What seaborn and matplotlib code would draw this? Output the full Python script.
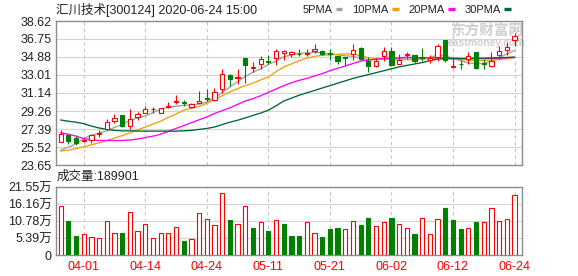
import numpy as np
import pandas as pd
import matplotlib
matplotlib.use("Agg")
import matplotlib.pyplot as plt
import seaborn as sns
from matplotlib.lines import Line2D

# ---------------- data ----------------
dates = ['03-27', '03-30', '03-31', '04-01', '04-02', '04-03', '04-07', '04-08', '04-09', '04-10',
         '04-13', '04-14', '04-15', '04-16', '04-17', '04-20', '04-21', '04-22', '04-23', '04-24',
         '04-27', '04-28', '04-29', '04-30', '05-06', '05-07', '05-08', '05-11', '05-12', '05-13',
         '05-14', '05-15', '05-18', '05-19', '05-20', '05-21', '05-22', '05-25', '05-26', '05-27',
         '05-28', '05-29', '06-01', '06-02', '06-03', '06-04', '06-05', '06-08', '06-09', '06-10',
         '06-11', '06-12', '06-15', '06-16', '06-17', '06-18', '06-19', '06-22', '06-23', '06-24']

opens = [26.04, 26.79, 26.48, 26.15, 26.28, 26.85, 27.41, 28.20, 28.81, 27.75,
         28.68, 29.02, 29.52, 29.09, 29.71, 30.22, 30.19, 29.71, 30.12, 30.60,
         30.39, 31.59, 33.00, 32.66, 34.78, 33.75, 34.17, 34.47, 34.78, 35.30,
         35.16, 35.23, 35.16, 35.54, 35.47, 35.30, 35.02, 34.89, 35.16, 35.85,
         34.44, 33.93, 34.95, 35.54, 34.17, 35.06, 35.06, 34.89, 34.61, 34.89,
         36.67, 33.86, 34.17, 34.68, 35.37, 34.30, 33.99, 35.09, 35.57, 36.60]
closes = [26.89, 26.10, 25.97, 26.30, 26.72, 26.95, 28.15, 28.54, 27.68, 28.44,
          28.95, 29.47, 29.48, 29.60, 29.77, 30.29, 30.08, 29.95, 30.29, 30.53,
          31.25, 33.07, 32.62, 32.76, 34.00, 33.86, 34.68, 34.34, 35.54, 35.47,
          35.37, 35.16, 35.30, 35.74, 35.16, 35.23, 34.41, 34.75, 35.61, 34.68,
          33.93, 34.41, 35.54, 34.03, 34.61, 35.16, 34.44, 34.75, 34.78, 35.98,
          34.61, 33.99, 34.10, 35.02, 33.75, 34.20, 34.51, 35.54, 35.88, 37.01]
highs = [27.24, 26.89, 26.65, 26.45, 26.75, 27.30, 28.40, 28.95, 28.85, 29.47,
         29.12, 29.74, 29.67, 29.62, 30.15, 30.91, 30.39, 30.08, 31.32, 31.59,
         31.70, 33.58, 33.07, 33.58, 34.78, 34.37, 34.95, 35.13, 35.71, 35.64,
         35.54, 35.74, 35.74, 36.19, 35.64, 35.71, 35.02, 34.89, 36.26, 35.92,
         34.89, 34.82, 35.92, 35.92, 35.20, 35.37, 35.13, 35.81, 35.13, 36.22,
         36.67, 34.78, 34.61, 35.40, 35.37, 34.68, 35.40, 35.98, 36.40, 37.42]
lows = [26.00, 25.86, 25.76, 26.00, 25.95, 26.55, 27.30, 27.99, 27.65, 27.41,
        28.33, 29.02, 29.05, 29.05, 29.53, 29.95, 29.74, 29.53, 30.08, 30.33,
        30.32, 31.11, 31.87, 32.04, 32.21, 33.31, 33.65, 34.17, 34.00, 34.61,
        34.85, 35.02, 34.95, 35.30, 35.06, 34.54, 34.10, 34.00, 34.61, 34.61,
        33.31, 33.86, 34.44, 33.93, 34.10, 34.71, 34.27, 34.44, 34.27, 34.44,
        34.34, 33.75, 33.58, 34.17, 33.65, 33.68, 33.82, 34.68, 35.13, 35.98]

ma5 = [25.20, 25.50, 25.85, 26.40, 26.75, 26.95, 27.20, 27.55, 27.85, 28.30,
       28.55, 28.75, 29.10, 29.45, 29.65, 29.75, 29.85, 29.90, 29.98, 30.20,
       30.60, 31.20, 31.75, 32.30, 32.85, 33.30, 33.65, 34.10, 34.45, 34.90,
       35.10, 35.25, 35.30, 35.35, 35.30, 35.20, 35.10, 35.00, 34.95, 34.75,
       34.60, 34.60, 34.75, 34.75, 34.70, 34.80, 34.75, 34.70, 34.80, 35.10,
       35.00, 34.75, 34.50, 34.25, 34.20, 34.20, 34.45, 34.80, 35.20, 35.55]
ma10 = [25.10, 25.20, 25.35, 25.55, 25.75, 25.95, 26.20, 26.45, 26.70, 27.00,
        27.30, 27.60, 27.90, 28.20, 28.60, 28.95, 29.35, 29.55, 29.75, 30.05,
        30.45, 30.85, 31.25, 31.60, 31.90, 32.15, 32.50, 32.80, 33.35, 33.85,
        34.15, 34.50, 34.75, 34.95, 35.05, 35.10, 35.15, 35.20, 35.20, 35.00,
        34.80, 34.70, 34.70, 34.65, 34.60, 34.60, 34.60, 34.65, 34.70, 34.75,
        34.75, 34.65, 34.60, 34.55, 34.50, 34.50, 34.55, 34.60, 34.70, 34.80]
ma20 = [27.00, 26.85, 26.65, 26.40, 26.25, 26.20, 26.20, 26.20, 26.20, 26.25,
        26.35, 26.50, 26.65, 26.85, 27.15, 27.45, 27.75, 28.05, 28.35, 28.65,
        29.00, 29.30, 29.60, 29.95, 30.30, 30.55, 30.85, 31.20, 31.55, 31.90,
        32.20, 32.45, 32.65, 32.90, 33.15, 33.45, 33.70, 33.95, 34.20, 34.45,
        34.55, 34.65, 34.70, 34.75, 34.80, 34.85, 34.80, 34.80, 34.80, 34.80,
        34.80, 34.75, 34.72, 34.70, 34.70, 34.70, 34.72, 34.75, 34.80, 34.85]
ma30 = [28.33, 28.20, 28.10, 27.95, 27.70, 27.50, 27.35, 27.25, 27.20, 27.20,
        27.18, 27.17, 27.17, 27.17, 27.17, 27.17, 27.20, 27.25, 27.35, 27.45,
        27.60, 27.85, 28.10, 28.30, 28.55, 28.80, 29.05, 29.35, 29.80, 30.30,
        30.60, 30.90, 31.15, 31.40, 31.65, 31.90, 32.15, 32.40, 32.65, 32.85,
        33.05, 33.25, 33.45, 33.65, 33.85, 34.00, 34.15, 34.30, 34.50, 34.65,
        34.70, 34.72, 34.72, 34.74, 34.75, 34.76, 34.78, 34.80, 34.83, 34.86]

vol_wan = [15.5, 10.8, 6.1, 6.7, 5.7, 5.4, 10.7, 7.0, 7.1, 13.5,
           7.6, 9.8, 5.4, 7.0, 7.0, 8.8, 4.3, 5.1, 13.2, 11.3,
           9.6, 19.8, 11.1, 9.9, 15.5, 8.6, 10.4, 7.7, 11.0, 9.9,
           6.1, 6.1, 10.5, 7.0, 5.6, 8.1, 8.7, 8.3, 10.8, 9.4,
           11.6, 9.3, 10.5, 11.6, 9.9, 8.6, 6.8, 11.8, 6.7, 11.5,
           15.0, 11.2, 8.1, 8.6, 10.3, 10.5, 14.9, 10.8, 11.5, 18.99]
vol_dir = ['up', 'down', 'down', 'up', 'up', 'up', 'up', 'up', 'down', 'up',
           'up', 'up', 'up', 'up', 'up', 'up', 'down', 'up', 'up', 'up',
           'up', 'up', 'down', 'up', 'up', 'down', 'up', 'down', 'up', 'down',
           'down', 'down', 'up', 'up', 'down', 'down', 'down', 'up', 'up', 'down',
           'down', 'up', 'up', 'down', 'up', 'up', 'down', 'up', 'up', 'up',
           'down', 'down', 'down', 'up', 'down', 'up', 'up', 'up', 'up', 'up']

price_ticks = [23.65, 25.52, 27.39, 29.26, 31.14, 33.01, 34.88, 36.75, 38.62]
vol_ticks = [0, 5.39, 10.78, 16.16, 21.55]
vol_tick_labels = ['0', '5.39万', '10.78万', '16.16万', '21.55万']
date_ticks = ['04-01', '04-14', '04-24', '05-11', '05-21', '06-02', '06-12', '06-24']
title = '汇川技术[300124] 2020-06-24 15:00'
vol_label = '成交量:189901'
ma_names = ['5PMA', '10PMA', '20PMA', '30PMA']

# ---------------- style ----------------
sns.set_style('white')
plt.rcParams['font.family'] = ['Liberation Sans', 'Noto Sans CJK SC']
plt.rcParams['axes.unicode_minus'] = False

RED = '#ff0000'
GREEN = '#008000'
MA_COLORS = ['#a0a0a0', '#f0a000', '#ff00ff', '#006633']
GRID = '#d2d2d2'
VGRID = '#c4c4c4'
SPINE = '#8c8c8c'
TXT = '#222222'

W, H = 578, 276
fig = plt.figure(figsize=(W / 100, H / 100), dpi=100)
fig.patch.set_facecolor('white')
ax1 = fig.add_axes([56 / W, 1 - 165 / H, 466 / W, 144 / H])
ax2 = fig.add_axes([56 / W, 1 - 255 / H, 466 / W, 68 / H])

idx = np.arange(len(dates))
tick_pos = [dates.index(d) for d in date_ticks]
XL = (-0.6, 59.97)

# ---------------- price panel ----------------
o = np.array(opens); c = np.array(closes)
up = c >= o
cols = [RED if u else GREEN for u in up]
ax1.vlines(idx, lows, highs, colors=cols, lw=0.8, zorder=3)
body_bottom = np.minimum(o, c)
body_h = np.maximum(np.abs(c - o), 0.04)
ax1.bar(idx, body_h, bottom=body_bottom, width=0.55,
        color=['white' if u else GREEN for u in up], edgecolor=cols, lw=0.8, zorder=4)

for ma, col in zip([ma5, ma10, ma20, ma30], MA_COLORS):
    sns.lineplot(x=idx, y=ma, color=col, lw=0.95, ax=ax1, zorder=2)

ax1.set_xlim(*XL)
ax1.set_ylim(price_ticks[0], price_ticks[-1])
ax1.set_yticks(price_ticks)
ax1.set_yticklabels(['%.2f' % t for t in price_ticks])
ax1.set_xticks([])
ax1.set_xlabel(''); ax1.set_ylabel('')
ax1.yaxis.grid(True, color=GRID, lw=0.8, ls='-')
ax1.set_axisbelow(True)
for p in tick_pos:
    ax1.axvline(p, color=VGRID, lw=0.8, ls=(0, (3, 3)), zorder=0.5)

ax1.text(450 / W, 1 - 31 / H, '东方财富网', transform=fig.transFigure, fontsize=10.5,
         color='#cfcfcf', fontweight='bold', family=['Noto Sans CJK SC'], va='center', ha='left', zorder=1)
ax1.text(486 / W, 1 - 43 / H, 'eastmoney.com', transform=fig.transFigure, fontsize=7.5,
         color='#cfcfcf', fontweight='bold', va='center', ha='center', zorder=1)

# ---------------- volume panel ----------------
df = pd.DataFrame({'i': idx, 'v': vol_wan, 'd': vol_dir})
sns.barplot(data=df, x='i', y='v', hue='d', palette={'up': RED, 'down': GREEN},
            dodge=False, width=0.55, saturation=1, errorbar=None, legend=False, ax=ax2, zorder=3)
for patch in ax2.patches:
    fc = patch.get_facecolor()
    if fc[0] > 0.9 and fc[1] < 0.2:
        patch.set_facecolor('white')
        patch.set_edgecolor(RED)
    else:
        patch.set_edgecolor(GREEN)
    patch.set_linewidth(0.8)

ax2.set_xlim(*XL)
ax2.set_ylim(0, vol_ticks[-1])
ax2.set_yticks(vol_ticks)
ax2.set_yticklabels(vol_tick_labels)
ax2.set_xticks(tick_pos)
ax2.set_xticklabels(date_ticks)
ax2.set_xlabel(''); ax2.set_ylabel('')
ax2.yaxis.grid(True, color=GRID, lw=0.8, ls='-')
ax2.xaxis.grid(False)
ax2.set_axisbelow(True)
for p in tick_pos:
    ax2.axvline(p, color=VGRID, lw=0.8, ls=(0, (3, 3)), zorder=0.5)

for ax in (ax1, ax2):
    for s in ax.spines.values():
        s.set_color(SPINE)
        s.set_linewidth(1.0)
    ax.tick_params(axis='y', length=0, pad=3, labelsize=9, labelcolor=TXT)
ax2.tick_params(axis='x', length=0, pad=4, labelsize=9, labelcolor=RED)

# ---------------- texts ----------------
fig.text(56 / W, 1 - 10 / H, title, fontsize=9, color=TXT, va='center', ha='left')
fig.text(57 / W, 1 - 177 / H, vol_label, fontsize=9, color=TXT, va='center', ha='left')

handles = [Line2D([], [], color=col, lw=2.4, solid_capstyle='butt') for col in MA_COLORS]
leg = fig.legend(handles, ma_names, loc='center right', bbox_to_anchor=(511 / W, 1 - 10 / H),
                 ncol=4, frameon=False, markerfirst=False, handlelength=0.6, handletextpad=0.3,
                 columnspacing=0.9, fontsize=8, borderpad=0, borderaxespad=0)
for t in leg.get_texts():
    t.set_color(TXT)

fig.savefig('out.png', dpi=100, facecolor='white')
